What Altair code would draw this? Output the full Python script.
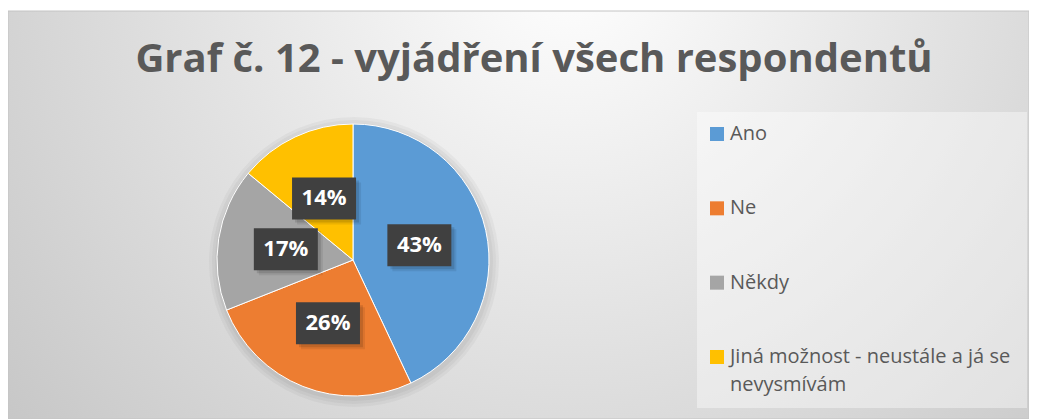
import math
import altair as alt
import pandas as pd

# ---- data ----
categories = ["Ano", "Ne", "Někdy", "Jiná možnost - neustále a já se nevysmívám"]
legend_labels = ["Ano", "Ne", "Někdy", "Jiná možnost - neustále a já se\nnevysmívám"]
values = [43, 26, 17, 14]
value_labels = ["43%", "26%", "17%", "14%"]
colors = ["#5B9BD5", "#ED7D31", "#A5A5A5", "#FFC000"]
title_text = "Graf č. 12 - vyjádření všech respondentů"

# ---- layout (pixels) ----
W, H = 1021, 411
CX, CY, R = 345, 252, 136
LR = 68           # radius of the label centres
BW, BH = 64, 42   # label box size

df = pd.DataFrame({
    "cat": categories,
    "legend": legend_labels,
    "value": values,
    "label": value_labels,
    "order": list(range(len(categories))),
})
one = pd.DataFrame({"k": [0]})

color = alt.Color("cat:N", scale=alt.Scale(domain=categories, range=colors), legend=None)

bg = alt.Chart(one).mark_rect(
    fill=alt.Gradient(
        gradient="radial", x1=0.55, y1=0.25, r1=0, x2=0.55, y2=0.25, r2=0.75,
        stops=[alt.GradientStop(offset=0, color="#ffffff"),
               alt.GradientStop(offset=1, color="#c4c4c4")]),
    stroke="#c4c4c4", strokeWidth=1,
).encode(x=alt.value(0), x2=alt.value(W), y=alt.value(3), y2=alt.value(H))

legbox = alt.Chart(one).mark_rect(fill="white", fillOpacity=0.4).encode(
    x=alt.value(689), x2=alt.value(1019), y=alt.value(104), y2=alt.value(400))

halos = [
    alt.Chart(one).mark_arc(theta=0, theta2=2 * math.pi, outerRadius=R + d,
                            color="#000000", opacity=0.035).encode(
        x=alt.value(CX + 1), y=alt.value(CY + 2))
    for d in (9, 6, 3)
]

pie = alt.Chart(df).mark_arc(outerRadius=R, stroke="white", strokeWidth=1).encode(
    theta=alt.Theta("value:Q", stack=True),
    color=color,
    order=alt.Order("order:Q"),
    x=alt.value(CX), y=alt.value(CY),
)

lab = (
    alt.Chart(df)
    .transform_window(cum="sum(value)", sort=[alt.SortField("order")], frame=[None, 0])
    .transform_joinaggregate(total="sum(value)")
    .transform_calculate(mid="(datum.cum - datum.value / 2) / datum.total * 2 * PI")
    .transform_calculate(bx=f"{CX} + {LR} * sin(datum.mid)",
                         by=f"{CY} - {LR} * cos(datum.mid)")
    .transform_calculate(x1=f"datum.bx - {BW / 2}", x2=f"datum.bx + {BW / 2}",
                         y1=f"datum.by - {BH / 2}", y2=f"datum.by + {BH / 2}")
)

def shadow(off, op):
    return lab.transform_calculate(
        sx1=f"datum.x1 + {off}", sx2=f"datum.x2 + {off}",
        sy1=f"datum.y1 + {off}", sy2=f"datum.y2 + {off}",
    ).mark_rect(color="#000000", opacity=op).encode(
        x=alt.X("sx1:Q", scale=None), x2="sx2:Q",
        y=alt.Y("sy1:Q", scale=None), y2="sy2:Q")

shadows = [shadow(5, 0.08), shadow(3, 0.12)]

boxes = lab.mark_rect(color="#404040").encode(
    x=alt.X("x1:Q", scale=None), x2="x2:Q",
    y=alt.Y("y1:Q", scale=None), y2="y2:Q")

texts = lab.mark_text(font="Open Sans", fontWeight="bold", fontSize=22, color="white",
                      align="center", baseline="middle").encode(
    x=alt.X("bx:Q", scale=None), y=alt.Y("by:Q", scale=None), text="label:N")

title = alt.Chart(one).mark_text(
    text=title_text, font="Open Sans", fontWeight="bold", fontSize=40, color="#595959",
    align="center", baseline="alphabetic",
).encode(x=alt.value(526), y=alt.value(64))

leg_y = alt.Y("cat:N", scale=alt.Scale(type="point", domain=categories, range=[126, 349], padding=0),
              axis=None)
leg_sq = alt.Chart(df).mark_square(size=196, opacity=1, filled=True).encode(
    x=alt.value(709), y=leg_y, color=color)
leg_text = alt.Chart(df).mark_text(
    align="left", baseline="middle", font="Open Sans", fontSize=20, color="#595959",
    lineBreak="\n", lineHeight=28,
).encode(x=alt.value(722), y=leg_y, text="legend:N")

chart = alt.layer(
    bg, legbox, *halos, pie, *shadows, boxes, texts, title, leg_sq, leg_text
).resolve_scale(x="independent", y="independent").properties(
    width=W, height=H, padding=0, autosize="none"
).configure_view(stroke=None)

chart.save("out.html", embed_options={"renderer": "svg", "actions": False})
